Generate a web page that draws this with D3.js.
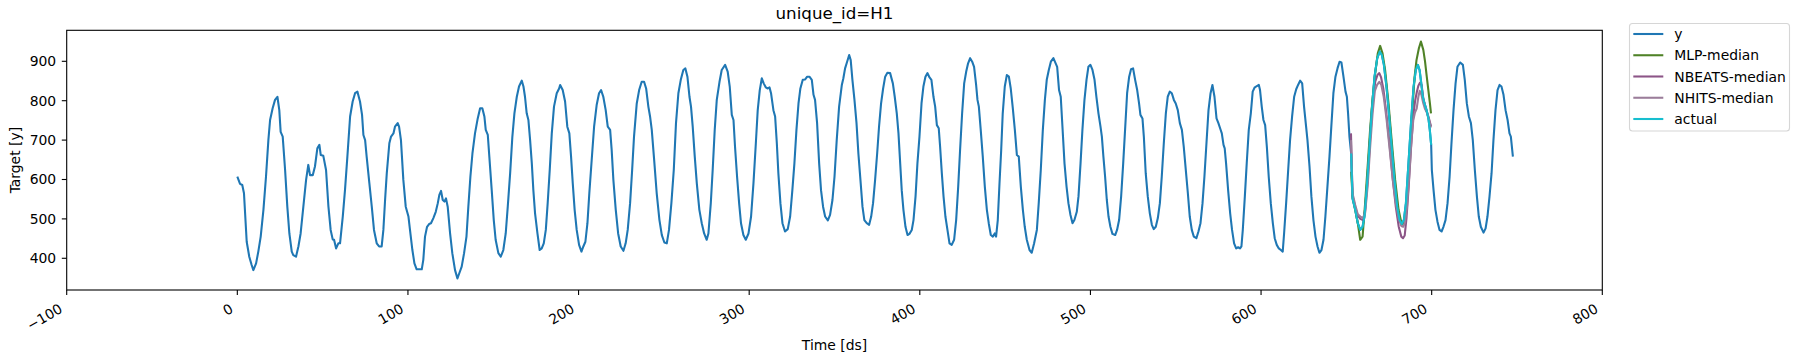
<!DOCTYPE html>
<html>

<head>
    <title>unique_id=H1</title>
    <meta charset="UTF-8" />
    <style>
        body {
            margin: 0;
            background: #fff;
        }

        text {
            font-family: "DejaVu Sans", sans-serif;
            fill: #000;
        }
    </style>
</head>

<body>
    <div id="chart"></div>

    <script src="https://cdn.jsdelivr.net/npm/d3@7"></script>
    <script>
        // historique de la serie
        const histDs = [0.0, 1.6, 2.9, 3.9, 5.5, 7.0, 8.4, 9.4, 11.0, 12.3, 13.7, 15.3, 16.8, 18.2, 19.2, 20.7, 22.1, 23.5, 24.6, 25.4, 26.6, 28.0, 29.3, 30.5, 31.9, 32.8, 34.4, 35.8, 37.1, 38.7, 40.3, 41.6, 42.6, 44.2, 45.5, 46.9, 48.1, 48.9, 50.4, 52.0, 53.4, 54.7, 55.9, 56.7, 57.9, 59.2, 60.2, 61.8, 63.1, 64.5, 66.1, 67.6, 69.0, 70.4, 71.9, 73.1, 73.9, 74.9, 75.8, 77.4, 78.8, 80.1, 81.7, 83.1, 84.6, 85.6, 86.6, 87.6, 89.1, 90.1, 91.5,
            92.4, 94.0, 94.8, 95.9, 97.3, 98.7, 100.3, 101.2, 102.6, 103.8, 105.1, 106.5, 108.1, 109.0, 110.0, 111.2, 112.4, 113.5, 114.9, 116.3, 117.5, 118.4, 119.4, 120.4, 121.4, 122.3, 123.3, 124.7, 126.0, 127.6, 129.0, 130.1, 131.5, 132.9, 134.3, 135.4, 136.6, 137.8, 139.3, 140.9, 142.3, 143.6, 144.8, 145.6, 146.8, 147.7, 149.1, 150.3, 151.4, 153.0, 154.4, 155.9, 157.3, 158.5, 159.9, 161.2, 162.4, 163.8, 165.1, 166.7, 167.7, 168.6, 169.6, 170.6, 171.6, 172.6, 173.5, 174.5, 175.9, 177.2, 178.4, 179.6, 180.8, 181.9, 183.1, 184.3, 185.6, 187.2, 188.6,
            189.2, 190.7, 192.1, 193.4, 194.6, 195.6, 196.6, 197.7, 198.9, 200.3, 201.7, 202.8, 204.0, 205.2, 206.3, 207.7, 209.1, 210.6, 212.0, 213.2, 214.5, 215.9, 217.1, 218.5, 219.4, 220.4, 221.8, 223.2, 224.7, 226.3, 227.6, 228.8, 230.2, 231.4, 232.5, 234.1, 235.5, 237.0, 238.4, 239.6, 240.9, 241.9, 242.9, 244.3, 245.8, 247.4, 248.8, 250.3, 251.7, 253.0, 254.4, 255.8, 257.1, 258.5, 259.9, 261.4, 262.6, 263.8, 265.0, 265.9, 266.9, 268.1, 269.3, 270.8, 272.2, 273.6, 275.1, 276.1, 277.5, 278.6, 279.8, 281.0, 282.6, 283.9,
            285.9, 287.4, 288.6, 289.8, 290.8, 291.7, 292.9, 294.1, 295.2, 296.6, 298.0, 299.6, 301.1, 302.5, 303.9, 305.0, 306.2, 307.4, 308.5, 309.7, 310.9, 311.9, 312.8, 314.2, 315.2, 316.2, 317.1, 318.3, 319.5, 321.0, 322.6, 324.0, 325.3, 326.5, 327.7, 328.9, 330.0, 331.4, 332.8, 334.0, 335.3, 336.7, 337.7, 338.6, 339.8, 341.0, 342.1, 343.3, 344.5, 346.1, 347.4, 348.8, 350.0, 351.3, 352.7, 354.3, 355.2, 356.2, 357.4, 358.6, 359.5, 360.5, 361.7, 362.9, 364.0, 365.2, 366.4, 367.5, 368.9, 370.3, 371.5, 372.6, 373.8, 375.0, 376.1, 377.3, 378.5, 379.7, 381.0,
            382.6, 384.2, 385.3, 386.5, 387.5, 388.5, 389.4, 390.4, 391.6, 392.8, 393.9, 395.3, 396.3, 397.5, 398.6, 399.8, 401.0, 402.1, 403.3, 404.5, 405.7, 406.8, 408.0, 409.0, 410.0, 411.1, 411.9, 412.9, 413.9, 415.0, 416.2, 417.4, 418.7, 420.1, 421.3, 422.5, 423.6, 424.8, 426.0, 427.2, 428.3, 429.5, 430.7, 431.8, 433.0, 433.8, 434.6, 435.7, 436.9, 438.1, 439.3, 440.4, 441.6, 442.8, 443.9, 444.7, 445.7, 446.7, 447.7, 448.6, 449.8, 451.0, 452.2, 453.3, 454.5, 455.7, 456.9, 458.0, 459.2, 460.4, 461.5, 462.7, 464.3, 465.6, 467.0, 468.6, 469.7, 470.9, 472.1, 473.3, 474.4, 475.6, 476.8, 478.3,
            480.5, 481.6, 482.6, 483.6, 484.8, 486.0, 487.1, 488.3, 489.5, 490.6, 492.0, 493.0, 494.2, 495.3, 496.5, 497.7, 498.8, 500.0, 501.2, 502.4, 503.5, 504.7, 505.9, 506.7, 507.6, 508.6, 509.6, 510.6, 511.7, 512.9, 514.5, 515.6, 516.8, 518.0, 519.2, 520.3, 521.5, 522.7, 523.8, 525.0, 526.2, 527.4, 528.5, 529.3, 530.5, 531.3, 532.4, 533.6, 534.8, 536.0, 537.1, 538.3, 539.5, 540.7, 541.8, 543.0, 544.2, 545.3, 546.5, 547.7, 548.9, 550.0, 551.2, 552.4, 553.6, 554.7, 555.9, 557.1, 558.2, 559.4, 560.6, 562.1, 563.3, 564.5, 565.7, 566.8, 568.0, 569.2, 570.4, 571.5, 572.7, 573.9, 575.0,
            576.0, 577.0, 578.0, 578.7, 579.5, 580.7, 581.9, 583.0, 584.2, 585.4, 586.6, 587.7, 588.5, 589.3, 590.5, 591.6, 592.8, 594.0, 595.1, 596.3, 597.5, 598.7, 599.4, 600.4, 601.4, 602.4, 603.4, 604.5, 605.7, 606.9, 608.0, 609.2, 610.4, 611.6, 612.7, 613.5, 614.7, 615.9, 617.0, 618.2, 619.4, 620.6, 621.7, 622.9, 624.1, 625.2, 626.4, 627.2, 628.4, 629.5, 630.7, 631.9, 633.1, 634.2, 635.4, 636.6, 637.7, 638.9, 640.1, 641.3, 642.4, 643.6, 644.8, 646.0, 647.1, 648.3, 649.5, 650.3, 651.0, 651.8];
        const histVal = [607, 589, 586, 565, 442, 404, 383, 370, 387, 417, 455, 523, 607, 700, 751, 781, 802, 810, 776, 721, 709, 624, 531, 463, 417, 408, 404, 430, 463, 531, 599, 637, 611, 611, 633, 679, 688, 662, 660, 624, 531, 472, 448, 447, 425, 438, 438, 506, 573, 658, 760, 798, 819, 823, 798, 764, 713, 700, 658, 590, 531, 472, 438, 430, 430, 472, 548, 616, 692, 709, 717,
            734, 743, 734, 700, 599, 531, 506, 472, 421, 387, 372, 372, 372, 396, 455, 480, 487, 489, 502, 518, 540, 561, 571, 548, 544, 552, 531, 463, 413, 370, 349, 362, 379, 413, 455, 531, 607, 666, 717, 755, 781, 781, 760, 726, 713, 658, 573, 497, 447, 413, 404, 421, 463, 531, 616, 709, 768, 810, 836, 851, 836, 810, 768, 751, 700, 641, 573, 514, 463, 421, 425, 438, 472, 540, 624, 717, 785, 819, 831,
            840, 827, 798, 734, 717, 658, 590, 523, 472, 434, 417, 430, 442, 489, 565, 650, 734, 789, 819, 827, 810, 776, 734, 726, 675, 599, 523, 463, 430, 419, 438, 472, 540, 624, 709, 793, 827, 848, 848, 831, 785, 760, 726, 650, 565, 497, 459, 440, 438, 472, 540, 624, 743, 819, 853, 878, 882, 861, 810, 785, 734, 658, 590, 523, 489, 463, 447, 463, 540, 624, 726, 802, 848, 878,
            891, 874, 836, 764, 751, 683, 607, 540, 489, 459, 447, 463, 506, 590, 692, 776, 827, 857, 844, 834, 831, 834, 819, 776, 760, 692, 616, 540, 489, 468, 474, 506, 573, 641, 726, 793, 831, 853, 854, 861, 861, 853, 815, 802, 743, 641, 573, 531, 506, 496, 510, 548, 607, 700, 785, 840, 857, 882, 899, 916, 903, 853, 802, 743, 666, 599, 531, 497, 489, 485, 506, 540, 599, 666, 734, 793, 831, 861, 871,
            870, 844, 810, 768, 717, 641, 573, 523, 480, 459, 462, 472, 497, 557, 641, 709, 793, 836, 861, 870, 859, 853, 810, 785, 738, 730, 683, 616, 557, 506, 472, 438, 434, 447, 497, 582, 675, 768, 844, 874, 895, 908, 899, 886, 840, 802, 785, 726, 658, 582, 523, 489, 459, 455, 463, 455, 497, 590, 675, 768, 836, 865, 861, 831, 781, 726, 662, 658, 582, 523, 480, 447, 421, 414, 438, 472, 540, 624, 726, 802, 853, 878, 899, 908,
            886, 827, 810, 734, 641, 582, 540, 510, 489, 497, 518, 557, 641, 726, 802, 853, 886, 891, 878, 853, 810, 768, 734, 709, 658, 607, 548, 506, 480, 462, 459, 472, 497, 557, 641, 726, 819, 861, 880, 882, 853, 827, 793, 764, 755, 709, 616, 557, 514, 485, 474, 480, 502, 540, 607, 692, 768, 810, 823, 819, 802, 793, 776, 743, 726, 683, 624, 565, 506, 472, 455, 451, 468, 489, 540, 607, 692, 776, 819, 840, 810, 755, 743,
            730, 717, 688, 679, 641, 573, 514, 472, 438, 425, 428, 425, 430, 472, 557, 641, 726, 768, 823, 834, 837, 840, 827, 785, 751, 738, 683, 607, 540, 489, 451, 434, 425, 421, 417, 463, 540, 624, 700, 760, 810, 829, 840, 851, 844, 785, 734, 700, 633, 557, 497, 455, 430, 414, 421, 447, 506, 582, 658, 743, 819, 861, 882, 899, 897, 861, 823, 810, 768, 709];

        // fenetre de prevision : valeurs reelles
        const actualDs = [652.8, 653.6, 655.2, 656.7, 658.1, 659.5, 660.6, 662.0, 663.4, 664.9, 666.5, 668.1, 669.6, 670.8, 672.0, 673.5, 675.1, 676.7, 678.2, 679.8, 681.2, 682.5, 683.7, 684.9, 686.4, 688.0, 689.4, 690.7, 691.9, 692.9, 693.9, 694.8, 695.8, 697.0, 698.1, 698.9, 699.7];
        const actualVal = [666, 552, 523, 489, 472, 480, 506, 582, 675, 776, 861, 908, 925, 916, 891, 836, 760, 675, 599, 531, 497, 487, 497, 540, 641, 751, 836, 878, 891, 878, 844, 810, 793, 776, 755, 726, 688];

        // suite de la serie apres la fenetre
        const tailDs = [700.1, 701.1, 702.2, 703.4, 704.6, 705.8, 706.9, 708.1, 709.3, 710.5, 711.6, 712.8, 714.0, 715.1, 716.7, 718.3, 719.4, 720.6, 721.8, 723.0, 724.1, 725.3, 726.5, 727.6, 728.8, 730.4, 731.6, 732.7, 733.9, 735.1, 736.2, 737.4, 738.6, 739.8, 740.9, 742.1, 743.3, 744.5, 745.6, 746.4, 747.6];
        const tailVal = [624, 573, 523, 493, 472, 468, 480, 497, 540, 607, 692, 776, 844, 886, 897, 891, 853, 793, 760, 743, 700, 624, 557, 506, 480, 465, 476, 506, 557, 616, 700, 776, 827, 840, 836, 815, 776, 751, 717, 709, 658];

        // previsions des modeles
        const mlpDs = [652.8, 653.6, 655.2, 656.7, 658.1, 659.5, 661.0, 662.6, 663.9, 665.3, 666.9, 668.4, 669.8, 671.2, 672.7, 674.7, 676.7, 678.6, 680.6, 682.5, 684.1, 685.4, 686.8, 688.4, 690.0, 691.1, 692.5, 693.7, 695.1, 696.1, 697.1, 698.1, 699.0, 699.6];
        const mlpVal = [620, 557, 523, 489, 447, 455, 540, 641, 726, 802, 870, 920, 939, 920, 878, 793, 692, 599, 523, 485, 493, 548, 641, 760, 861, 903, 933, 950, 929, 900, 862, 825, 792, 768];

        const nbeatsDs = [652.7, 653.6, 655.2, 656.7, 658.2, 659.7, 661.0, 662.5, 663.9, 665.4, 666.9, 668.3, 669.3, 670.3, 671.7, 673.4, 675.3, 677.2, 679.0, 680.7, 682.2, 683.2, 684.2, 685.2, 686.5, 687.9, 689.2, 690.3, 691.3, 692.2, 693.2, 694.1, 695.1, 696.7, 698.1, 699.6];
        const nbeatsVal = [717, 560, 530, 508, 500, 497, 520, 600, 700, 790, 848, 866, 870, 860, 830, 770, 690, 600, 530, 480, 455, 451, 458, 500, 580, 680, 760, 800, 822, 838, 846, 840, 805, 778, 760, 735];

        const nhitsDs = [652.7, 653.6, 655.2, 656.7, 658.2, 659.7, 661.0, 662.5, 663.9, 665.4, 666.7, 668.0, 669.3, 670.5, 671.9, 673.5, 675.3, 677.2, 679.0, 680.7, 682.2, 683.3, 684.3, 685.5, 686.7, 688.0, 689.2, 690.2, 691.2, 692.2, 693.0, 694.0, 695.0, 696.0, 697.2, 698.5, 699.6];
        const nhitsVal = [700, 565, 535, 512, 506, 502, 515, 585, 680, 770, 825, 840, 848, 840, 810, 755, 680, 600, 540, 500, 482, 480, 490, 530, 600, 690, 750, 770, 780, 810, 825, 815, 795, 780, 770, 750, 732];

        const xTicks = [-100, 0, 100, 200, 300, 400, 500, 600, 700, 800];
        const yTicks = [400, 500, 600, 700, 800, 900];
        const seriesNames = ["y", "MLP-median", "NBEATS-median", "NHITS-median", "actual"];
        const seriesColors = ["#1f77b4", "#4f8227", "#8c5587", "#9b7d9a", "#17becf"];

        let width = 1800,
            height = 361;

        // zone de trace
        let plotLeft = 66.7,
            plotRight = 1602.3,
            plotTop = 30.3,
            plotBottom = 290;

        let svg = d3.select("#chart")
            .append("svg")
            .attr("width", width)
            .attr("height", height);

        let x = d3.scaleLinear().domain([-100, 800]).range([plotLeft, plotRight]);
        let y = d3.scaleLinear().domain([319.5, 978.7]).range([plotBottom, plotTop]);

        let line = d3.line()
            .x(d => x(d[0]))
            .y(d => y(d[1]));

        // la serie complete = historique + fenetre + suite
        let yData = d3.zip(histDs.concat(actualDs, tailDs), histVal.concat(actualVal, tailVal));
        let allSeries = [
            yData,
            d3.zip(mlpDs, mlpVal),
            d3.zip(nbeatsDs, nbeatsVal),
            d3.zip(nhitsDs, nhitsVal),
            d3.zip(actualDs, actualVal)
        ];

        svg.append("g")
            .selectAll("path")
            .data(allSeries)
            .join("path")
            .attr("d", line)
            .attr("fill", "none")
            .attr("stroke", (d, i) => seriesColors[i])
            .attr("stroke-width", 2.08)
            .attr("stroke-linejoin", "round");

        // cadre
        svg.append("rect")
            .attr("x", plotLeft)
            .attr("y", plotTop)
            .attr("width", plotRight - plotLeft)
            .attr("height", plotBottom - plotTop)
            .attr("fill", "none")
            .attr("stroke", "#000")
            .attr("stroke-width", 1.1);

        // axe x
        let gx = svg.append("g");
        gx.selectAll("line")
            .data(xTicks)
            .join("line")
            .attr("x1", d => x(d))
            .attr("x2", d => x(d))
            .attr("y1", plotBottom)
            .attr("y2", plotBottom + 4.9)
            .attr("stroke", "#000")
            .attr("stroke-width", 1.1);
        gx.selectAll("text")
            .data(xTicks)
            .join("text")
            .attr("transform", d => `translate(${x(d) - 3.2},${311.7}) rotate(-30)`)
            .attr("text-anchor", "end")
            .style("font-size", "13.9px")
            .text(d => d < 0 ? "\u2212" + Math.abs(d) : d);

        // axe y
        let gy = svg.append("g");
        gy.selectAll("line")
            .data(yTicks)
            .join("line")
            .attr("x1", plotLeft - 4.9)
            .attr("x2", plotLeft)
            .attr("y1", d => y(d))
            .attr("y2", d => y(d))
            .attr("stroke", "#000")
            .attr("stroke-width", 1.1);
        gy.selectAll("text")
            .data(yTicks)
            .join("text")
            .attr("x", plotLeft - 10.5)
            .attr("y", d => y(d))
            .attr("dy", "0.36em")
            .attr("text-anchor", "end")
            .style("font-size", "13.9px")
            .text(d => d);

        // titres
        svg.append("text")
            .attr("x", (plotLeft + plotRight) / 2)
            .attr("y", 19)
            .attr("text-anchor", "middle")
            .style("font-size", "16.7px")
            .text("unique_id=H1");

        svg.append("text")
            .attr("x", (plotLeft + plotRight) / 2)
            .attr("y", 350)
            .attr("text-anchor", "middle")
            .style("font-size", "13.9px")
            .text("Time [ds]");

        svg.append("text")
            .attr("transform", `translate(20,${(plotTop + plotBottom) / 2}) rotate(-90)`)
            .attr("text-anchor", "middle")
            .style("font-size", "13.9px")
            .text("Target [y]");

        // legende
        let legend = svg.append("g");
        legend.append("rect")
            .attr("x", 1629.5)
            .attr("y", 23.5)
            .attr("width", 160)
            .attr("height", 107.5)
            .attr("rx", 3)
            .attr("fill", "#fff")
            .attr("fill-opacity", 0.8)
            .attr("stroke", "#d6d6d6")
            .attr("stroke-width", 1.1);

        let items = legend.selectAll("g.item")
            .data(seriesNames)
            .join("g")
            .attr("class", "item")
            .attr("transform", (d, i) => `translate(0,${34 + i * 21.25})`);
        items.append("line")
            .attr("x1", 1633.3)
            .attr("x2", 1663.3)
            .attr("stroke", (d, i) => seriesColors[i])
            .attr("stroke-width", 2.08);
        items.append("text")
            .attr("x", 1674.3)
            .attr("dy", "0.36em")
            .style("font-size", "13.9px")
            .text(d => d);
    </script>
</body>

</html>
